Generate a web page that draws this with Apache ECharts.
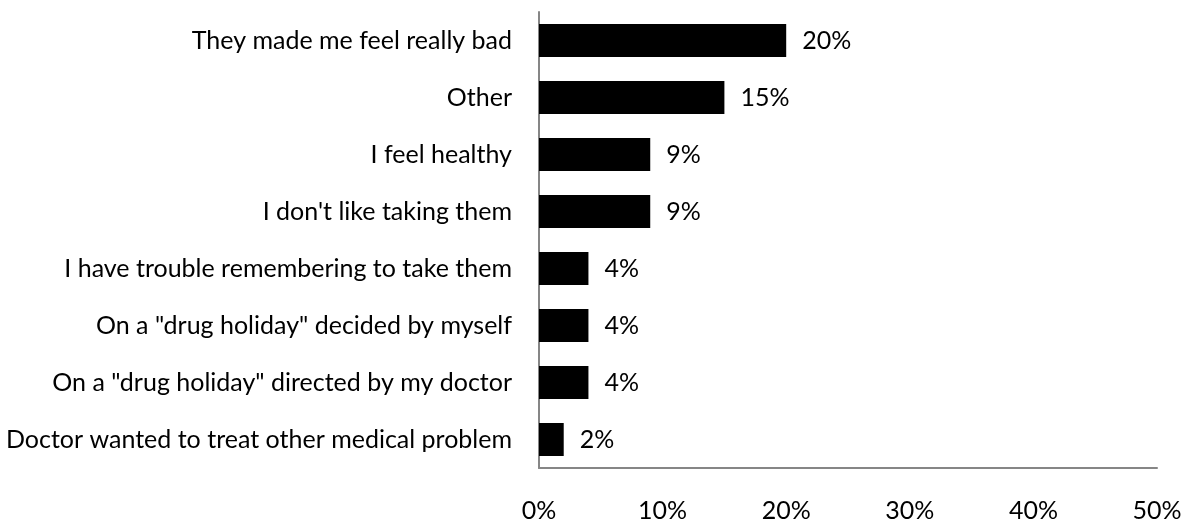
<!DOCTYPE html>
<html>
<head>
<meta charset="utf-8">
<script src="https://cdn.jsdelivr.net/npm/echarts@6/dist/echarts.min.js"></script>
<style>
  html, body { margin: 0; padding: 0; background: #fff; }
  #chart { width: 1186px; height: 523px; }
</style>
</head>
<body>
<div id="chart"></div>
<script>
const categories = [
  "They made me feel really bad",
  "Other",
  "I feel healthy",
  "I don't like taking them",
  "I have trouble remembering to take them",
  "On a \"drug holiday\" decided by myself",
  "On a \"drug holiday\" directed by my doctor",
  "Doctor wanted to treat other medical problem"
];
const values = [20, 15, 9, 9, 4, 4, 4, 2];
const xTicks = [0, 10, 20, 30, 40, 50];

const font = "Lato";
const fs = 25;
const chart = echarts.init(document.getElementById("chart"));

chart.setOption({
  animation: false,
  grid: { left: 539, right: 29, top: 12, bottom: 52, containLabel: false },
  xAxis: {
    type: "value",
    min: xTicks[0],
    max: xTicks[xTicks.length - 1],
    interval: 10,
    axisLine: { show: true, lineStyle: { color: "#868686", width: 2 } },
    axisTick: { show: false },
    splitLine: { show: false },
    axisLabel: {
      margin: 30,
      color: "#000",
      fontFamily: font,
      fontSize: fs,
      formatter: (v) => v + "%"
    }
  },
  yAxis: {
    type: "category",
    data: categories,
    inverse: true,
    axisLine: { show: true, lineStyle: { color: "#868686", width: 2 } },
    axisTick: { show: false },
    axisLabel: {
      margin: 27,
      color: "#000",
      fontFamily: font,
      fontSize: fs
    }
  },
  series: [
    {
      type: "bar",
      data: values,
      barWidth: "58%",
      itemStyle: { color: "#000" },
      label: {
        show: true,
        position: "right",
        distance: 16,
        color: "#000",
        fontFamily: font,
        fontSize: fs,
        formatter: (p) => p.value + "%"
      }
    }
  ]
});
</script>
</body>
</html>
